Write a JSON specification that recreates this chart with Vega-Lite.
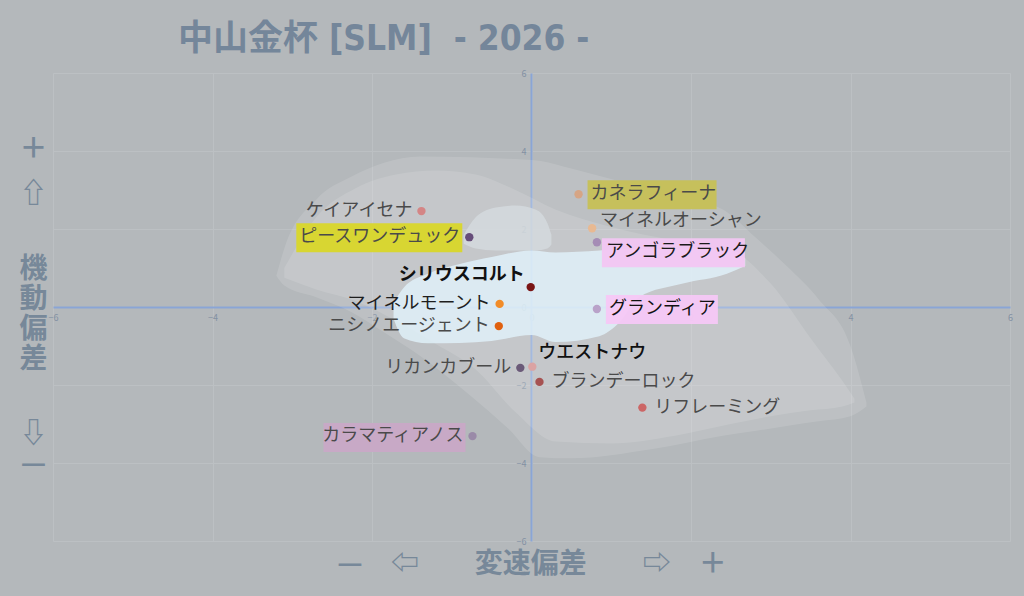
{
  "$schema": "https://vega.github.io/schema/vega-lite/v6.json",
  "width": 957,
  "height": 468,
  "autosize": {"type": "none"},
  "padding": {"left": 53, "top": 73, "right": 14, "bottom": 55},
  "background": "#b4b8bb",
  "config": {
    "view": {"stroke": null},
    "font": "Noto Sans CJK JP",
    "text": {"font": "Noto Sans CJK JP"}
  },
  "title": {
    "text": "中山金杯 [SLM]\u00a0\u00a0- 2026 -",
    "anchor": "start",
    "frame": "group",
    "dx": 125,
    "offset": 12,
    "font": "DejaVu Sans Condensed, Liberation Sans Narrow, Noto Sans CJK JP",
    "fontSize": 35,
    "fontWeight": "bold",
    "color": "#74869a"
  },
  "datasets": {
    "outer": [
      {"x": -3.2, "hi": 0.8, "lo": 0.8},
      {"x": -3.1, "hi": 1.5, "lo": 0.55},
      {"x": -2.7, "hi": 2.75, "lo": 0.25},
      {"x": -2.25, "hi": 3.35, "lo": -0.14},
      {"x": -1.85, "hi": 3.7, "lo": -0.65},
      {"x": -1.4, "hi": 3.86, "lo": -1.25},
      {"x": -0.75, "hi": 3.84, "lo": -2.3},
      {"x": -0.3, "hi": 3.8, "lo": -3.1},
      {"x": 0.1, "hi": 3.75, "lo": -3.85},
      {"x": 0.5, "hi": 3.55, "lo": -3.88},
      {"x": 1.5, "hi": 3.0, "lo": -3.65},
      {"x": 2.4, "hi": 2.5, "lo": -3.3},
      {"x": 2.8, "hi": 1.8, "lo": -3.18},
      {"x": 3.2, "hi": 1.05, "lo": -3.05},
      {"x": 3.6, "hi": 0.2, "lo": -2.93},
      {"x": 4.0, "hi": -1.0, "lo": -2.8},
      {"x": 4.2, "hi": -2.45, "lo": -2.55}
    ],
    "middle": [
      {"x": -3.1, "hi": 1.0, "lo": 0.75},
      {"x": -2.7, "hi": 2.3, "lo": 0.45},
      {"x": -2.2, "hi": 3.05, "lo": 0.15},
      {"x": -1.7, "hi": 3.4, "lo": -0.35},
      {"x": -1.2, "hi": 3.5, "lo": -0.95},
      {"x": -0.7, "hi": 3.4, "lo": -1.6},
      {"x": -0.2, "hi": 3.0, "lo": -2.7},
      {"x": 0.3, "hi": 2.5, "lo": -3.45},
      {"x": 1.0, "hi": 2.05, "lo": -3.5},
      {"x": 1.8, "hi": 1.7, "lo": -3.3},
      {"x": 2.5, "hi": 1.45, "lo": -3.0},
      {"x": 3.0, "hi": 0.6, "lo": -2.8},
      {"x": 3.5, "hi": -0.8, "lo": -2.65},
      {"x": 3.9, "hi": -1.9, "lo": -2.55},
      {"x": 4.05, "hi": -2.35, "lo": -2.45}
    ],
    "lobe": [
      {"x": -0.85, "hi": 1.85, "lo": 1.62},
      {"x": -0.7, "hi": 2.3, "lo": 1.5},
      {"x": -0.45, "hi": 2.55, "lo": 1.45},
      {"x": -0.2, "hi": 2.6, "lo": 1.45},
      {"x": 0.05, "hi": 2.5, "lo": 1.45},
      {"x": 0.2, "hi": 2.15, "lo": 1.5},
      {"x": 0.25, "hi": 1.85, "lo": 1.6}
    ],
    "core": [
      {"x": -1.73, "hi": 0.1, "lo": -0.3},
      {"x": -1.6, "hi": 0.5, "lo": -0.8},
      {"x": -1.3, "hi": 0.85, "lo": -0.93},
      {"x": -0.9, "hi": 1.1, "lo": -0.92},
      {"x": -0.5, "hi": 1.28, "lo": -0.87},
      {"x": 0.0, "hi": 1.45, "lo": -0.72},
      {"x": 0.3, "hi": 1.4, "lo": -0.9},
      {"x": 0.85, "hi": 1.45, "lo": -0.75},
      {"x": 1.1, "hi": 1.48, "lo": -0.4},
      {"x": 1.35, "hi": 1.48, "lo": 0.25},
      {"x": 1.9, "hi": 1.5, "lo": 0.6},
      {"x": 2.45, "hi": 1.5, "lo": 0.85},
      {"x": 2.68, "hi": 1.25, "lo": 1.05}
    ],
    "horses": [
      {"name": "カネラフィーナ", "x": 0.59, "y": 2.89},
      {"name": "ケイアイセナ", "x": -1.38, "y": 2.46},
      {"name": "ピースワンデュック", "x": -0.78, "y": 1.79},
      {"name": "マイネルオーシャン", "x": 0.76, "y": 2.02},
      {"name": "アンゴラブラック", "x": 0.82, "y": 1.66},
      {"name": "シリウスコルト", "x": -0.01, "y": 0.51},
      {"name": "マイネルモーント", "x": -0.4, "y": 0.08},
      {"name": "グランディア", "x": 0.82, "y": -0.05},
      {"name": "ニシノエージェント", "x": -0.41, "y": -0.49},
      {"name": "ウエストナウ", "x": 0.01, "y": -1.53},
      {"name": "リカンカブール", "x": -0.14, "y": -1.56},
      {"name": "ブランデーロック", "x": 0.1, "y": -1.92},
      {"name": "リフレーミング", "x": 1.39, "y": -2.58},
      {"name": "カラマティアノス", "x": -0.74, "y": -3.31}
    ]
  },
  "layer": [
    {
      "data": {"name": "outer"},
      "mark": {"type": "area", "interpolate": "monotone", "color": "#ffffff", "opacity": 0.12},
      "encoding": {
        "x": {
          "field": "x",
          "type": "quantitative",
          "scale": {"domain": [-6, 6], "nice": false, "zero": false},
          "axis": {
            "offset": -234,
            "values": [-6, -4, -2, 0, 2, 4, 6],
            "format": "d",
            "grid": true,
            "gridColor": "#bcc0c3",
            "ticks": false,
            "domainColor": "#8aa5d6",
            "domainWidth": 2,
            "labelColor": "#8391a3",
            "labelFontSize": 9,
            "labelPadding": 6,
            "labelFlush": false,
            "title": "—　⇦　　変速偏差　　⇨　＋",
            "titleColor": "#778899",
            "titleFontSize": 28,
            "titleFontWeight": "bold",
            "titleBaseline": "middle",
            "titleY": 257
          }
        },
        "y": {
          "field": "hi",
          "type": "quantitative",
          "scale": {"domain": [-6, 6], "nice": false, "zero": false},
          "axis": {
            "offset": -478,
            "values": [-6, -4, -2, 0, 2, 4, 6],
            "format": "d",
            "grid": true,
            "gridColor": "#bcc0c3",
            "ticks": false,
            "domainColor": "#8aa5d6",
            "domainWidth": 2,
            "labelColor": "#8391a3",
            "labelFontSize": 9,
            "labelPadding": 5,
            "labelFlush": false,
            "title": ["＋", "\u200b", "\u200b", "⇧", "\u200b", "\u200b", "\u200b", "\u200b", "機", "\u200b", "動", "\u200b", "偏", "\u200b", "差", "\u200b", "\u200b", "\u200b", "\u200b", "⇩", "\u200b", "—"],
            "titleColor": "#778899",
            "titleFontSize": 28,
            "titleFontWeight": "bold",
            "titleAngle": 0,
            "titleAlign": "center",
            "titleBaseline": "top",
            "titleLineHeight": 15,
            "titleX": -498,
            "titleY": 62
          }
        },
        "y2": {"field": "lo"}
      }
    },
    {
      "data": {"name": "middle"},
      "mark": {"type": "area", "interpolate": "monotone", "color": "#ffffff", "opacity": 0.12},
      "encoding": {
        "x": {"field": "x", "type": "quantitative"},
        "y": {"field": "hi", "type": "quantitative"},
        "y2": {"field": "lo"}
      }
    },
    {
      "data": {"name": "lobe"},
      "mark": {"type": "area", "interpolate": "monotone", "color": "#d4dbde", "opacity": 0.8},
      "encoding": {
        "x": {"field": "x", "type": "quantitative"},
        "y": {"field": "hi", "type": "quantitative"},
        "y2": {"field": "lo"}
      }
    },
    {
      "data": {"name": "core"},
      "mark": {"type": "area", "interpolate": "monotone", "color": "#e0f2fa", "opacity": 0.82},
      "encoding": {
        "x": {"field": "x", "type": "quantitative"},
        "y": {"field": "hi", "type": "quantitative"},
        "y2": {"field": "lo"}
      }
    },
    {
      "data": {"name": "horses"},
      "transform": [{"filter": {"field": "name", "equal": "カネラフィーナ"}}],
      "mark": {"type": "rect", "width": 129, "height": 29, "xOffset": 73.5, "yOffset": 0.5, "color": "#c6c05c"},
      "encoding": {
        "x": {"field": "x", "type": "quantitative"},
        "y": {"field": "y", "type": "quantitative"}
      }
    },
    {
      "data": {"name": "horses"},
      "transform": [{"filter": {"field": "name", "equal": "ピースワンデュック"}}],
      "mark": {"type": "rect", "width": 166, "height": 29, "xOffset": -90, "yOffset": 0.5, "color": "#d8d632"},
      "encoding": {
        "x": {"field": "x", "type": "quantitative"},
        "y": {"field": "y", "type": "quantitative"}
      }
    },
    {
      "data": {"name": "horses"},
      "transform": [{"filter": {"field": "name", "equal": "アンゴラブラック"}}],
      "mark": {"type": "rect", "width": 143, "height": 29, "xOffset": 76.5, "yOffset": 10.5, "color": "#f2c6f2", "opacity": 0.95},
      "encoding": {
        "x": {"field": "x", "type": "quantitative"},
        "y": {"field": "y", "type": "quantitative"}
      }
    },
    {
      "data": {"name": "horses"},
      "transform": [{"filter": {"field": "name", "equal": "グランディア"}}],
      "mark": {"type": "rect", "width": 112, "height": 29, "xOffset": 65, "yOffset": 0.5, "color": "#f5c8f5", "opacity": 0.95},
      "encoding": {
        "x": {"field": "x", "type": "quantitative"},
        "y": {"field": "y", "type": "quantitative"}
      }
    },
    {
      "data": {"name": "horses"},
      "transform": [{"filter": {"field": "name", "equal": "カラマティアノス"}}],
      "mark": {"type": "rect", "width": 142, "height": 29, "xOffset": -78, "yOffset": 1.5, "color": "#c8a9c6"},
      "encoding": {
        "x": {"field": "x", "type": "quantitative"},
        "y": {"field": "y", "type": "quantitative"}
      }
    },
    {
      "data": {"name": "horses"},
      "mark": {"type": "circle", "size": 70, "opacity": 1},
      "encoding": {
        "x": {"field": "x", "type": "quantitative"},
        "y": {"field": "y", "type": "quantitative"},
        "color": {
          "field": "name",
          "type": "nominal",
          "legend": null,
          "scale": {
            "domain": ["カネラフィーナ", "ケイアイセナ", "ピースワンデュック", "マイネルオーシャン", "アンゴラブラック", "シリウスコルト", "マイネルモーント", "グランディア", "ニシノエージェント", "ウエストナウ", "リカンカブール", "ブランデーロック", "リフレーミング", "カラマティアノス"],
            "range": ["#d6a585", "#d48585", "#664d7a", "#e8b992", "#a58cb5", "#7a1515", "#f28c28", "#b9a2c9", "#e0600f", "#dba3a3", "#6b5a78", "#a65252", "#cc6666", "#9a8aa8"]
          }
        }
      }
    },
    {
      "data": {"name": "horses"},
      "transform": [{"filter": {"field": "name", "oneOf": ["カネラフィーナ", "グランディア", "ブランデーロック", "リフレーミング"]}}],
      "mark": {"type": "text", "align": "left", "baseline": "middle", "dx": 12, "fontSize": 18},
      "encoding": {
        "x": {"field": "x", "type": "quantitative"},
        "y": {"field": "y", "type": "quantitative"},
        "text": {"field": "name"},
        "color": {"condition": {"test": "datum.name === 'グランディア'", "value": "#111111"}, "value": "#4a4a4a"}
      }
    },
    {
      "data": {"name": "horses"},
      "transform": [{"filter": {"field": "name", "equal": "マイネルオーシャン"}}],
      "mark": {"type": "text", "align": "left", "baseline": "middle", "dx": 8, "dy": -7, "fontSize": 18, "color": "#4a4a4a"},
      "encoding": {
        "x": {"field": "x", "type": "quantitative"},
        "y": {"field": "y", "type": "quantitative"},
        "text": {"field": "name"}
      }
    },
    {
      "data": {"name": "horses"},
      "transform": [{"filter": {"field": "name", "equal": "アンゴラブラック"}}],
      "mark": {"type": "text", "align": "left", "baseline": "middle", "dx": 9, "dy": 10, "fontSize": 18, "color": "#1a1a1a"},
      "encoding": {
        "x": {"field": "x", "type": "quantitative"},
        "y": {"field": "y", "type": "quantitative"},
        "text": {"field": "name"}
      }
    },
    {
      "data": {"name": "horses"},
      "transform": [{"filter": {"field": "name", "equal": "ウエストナウ"}}],
      "mark": {"type": "text", "align": "left", "baseline": "middle", "dx": 6, "dy": -14, "fontSize": 18, "fontWeight": 500, "color": "#111111"},
      "encoding": {
        "x": {"field": "x", "type": "quantitative"},
        "y": {"field": "y", "type": "quantitative"},
        "text": {"field": "name"}
      }
    },
    {
      "data": {"name": "horses"},
      "transform": [{"filter": {"field": "name", "oneOf": ["ケイアイセナ", "ピースワンデュック", "マイネルモーント", "ニシノエージェント", "リカンカブール", "カラマティアノス"]}}],
      "mark": {"type": "text", "align": "right", "baseline": "middle", "dx": -9, "fontSize": 18},
      "encoding": {
        "x": {"field": "x", "type": "quantitative"},
        "y": {"field": "y", "type": "quantitative"},
        "text": {"field": "name"},
        "color": {"condition": {"test": "datum.name === 'マイネルモーント'", "value": "#1e1e1e"}, "value": "#4a4a4a"}
      }
    },
    {
      "data": {"name": "horses"},
      "transform": [{"filter": {"field": "name", "equal": "シリウスコルト"}}],
      "mark": {"type": "text", "align": "right", "baseline": "middle", "dx": -6, "dy": -12, "fontSize": 18, "fontWeight": "bold", "color": "#111111"},
      "encoding": {
        "x": {"field": "x", "type": "quantitative"},
        "y": {"field": "y", "type": "quantitative"},
        "text": {"field": "name"}
      }
    }
  ]
}
